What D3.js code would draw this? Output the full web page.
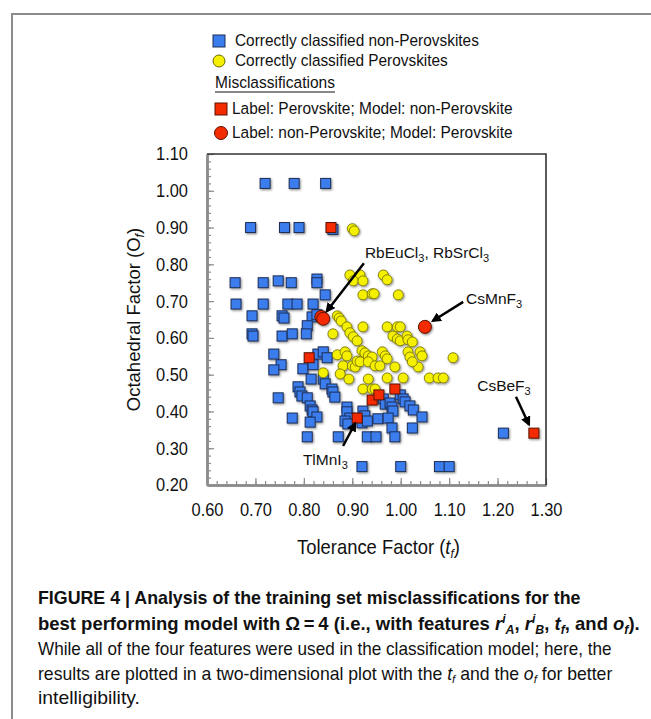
<!DOCTYPE html>
<html>
<head>
<meta charset="utf-8">
<script src="https://cdn.jsdelivr.net/npm/d3@7"></script>
<style>
  body { margin: 0; background: #fff; }
  svg text { font-family: "Liberation Sans", Arial, Helvetica, sans-serif; fill: #111; }
</style>
</head>
<body>
<div id="chart"></div>
<script>
// ......................
// Data (tolerance factor t_f, octahedral factor o_f)

// blue squares: correctly classified non-perovskites
var nonPerovskiteOK = [
  [0.72, 1.02], [0.78, 1.02], [0.845, 1.02],
  [0.69, 0.90], [0.76, 0.90], [0.79, 0.90], [0.86, 0.895],
  [0.658, 0.75], [0.716, 0.75], [0.747, 0.755], [0.774, 0.75], [0.827, 0.76], [0.827, 0.75],
  [0.844, 0.717],
  [0.66, 0.692], [0.716, 0.692], [0.767, 0.692], [0.786, 0.692], [0.819, 0.692],
  [0.693, 0.66], [0.755, 0.66], [0.759, 0.654], [0.817, 0.657], [0.827, 0.663],
  [0.807, 0.633],
  [0.693, 0.611], [0.695, 0.605], [0.755, 0.605], [0.776, 0.611], [0.805, 0.611],
  [0.738, 0.556], [0.753, 0.527], [0.738, 0.513], [0.798, 0.516], [0.829, 0.556], [0.84, 0.562], [0.848, 0.546], [0.819, 0.527],
  [0.815, 0.488], [0.84, 0.488], [0.844, 0.475],
  [0.788, 0.467], [0.792, 0.453], [0.796, 0.442],
  [0.858, 0.461], [0.86, 0.453], [0.864, 0.439],
  [0.747, 0.437],
  [0.807, 0.437], [0.813, 0.415], [0.817, 0.404], [0.819, 0.399], [0.827, 0.385],
  [0.776, 0.382], [0.813, 0.371],
  [0.889, 0.412], [0.889, 0.399], [0.895, 0.382], [0.885, 0.374], [0.891, 0.366],
  [0.922, 0.401], [0.926, 0.388], [0.92, 0.369], [0.931, 0.374], [0.953, 0.38],
  [0.964, 0.434], [0.968, 0.42], [0.978, 0.423], [0.982, 0.412], [0.984, 0.401], [0.974, 0.382],
  [0.999, 0.445], [1.005, 0.434], [1.009, 0.426], [1.019, 0.415], [1.026, 0.404], [1.044, 0.385],
  [0.982, 0.355], [1.024, 0.355],
  [0.807, 0.331], [0.871, 0.331], [0.931, 0.331], [0.949, 0.331], [0.988, 0.331],
  [0.92, 0.25], [1.0, 0.25], [1.08, 0.25], [1.10, 0.25],
  [1.212, 0.341]
];

// yellow circles: correctly classified perovskites
var perovskiteOK = [
  [0.90, 0.897], [0.904, 0.891],
  [0.895, 0.771], [0.916, 0.771], [0.902, 0.755], [0.922, 0.755], [0.964, 0.771], [0.972, 0.758],
  [0.922, 0.717], [0.941, 0.72], [0.945, 0.72], [0.995, 0.717],
  [0.869, 0.66], [0.873, 0.654], [0.877, 0.646],
  [0.889, 0.63], [0.895, 0.614], [0.902, 0.603], [0.91, 0.592], [0.922, 0.63],
  [0.86, 0.611],
  [0.972, 0.63], [0.993, 0.63], [0.999, 0.63], [0.984, 0.605], [0.993, 0.597], [0.999, 0.592],
  [1.013, 0.605], [1.015, 0.595], [1.024, 0.589],
  [0.92, 0.565], [0.926, 0.559], [0.933, 0.551], [0.941, 0.548],
  [0.962, 0.562], [0.968, 0.551], [0.972, 0.543],
  [1.015, 0.562], [1.019, 0.548], [1.04, 0.562], [1.044, 0.551],
  [1.108, 0.546],
  [0.869, 0.554], [0.885, 0.562], [0.889, 0.551],
  [0.84, 0.505],
  [0.881, 0.524], [0.90, 0.524], [0.906, 0.521], [0.91, 0.537], [0.916, 0.535], [0.933, 0.535],
  [0.947, 0.524], [0.957, 0.524], [0.988, 0.521],
  [0.875, 0.502], [0.893, 0.488],
  [0.933, 0.488], [0.972, 0.491], [1.005, 0.491],
  [1.036, 0.521], [1.024, 0.535],
  [1.059, 0.491], [1.077, 0.491], [1.088, 0.491],
  [0.922, 0.461], [0.941, 0.461], [0.947, 0.461]
];

// red squares: label perovskite, model non-perovskite
var misPerovskite = [
  [0.856, 0.90], [0.811, 0.546], [0.941, 0.431], [0.955, 0.445], [0.988, 0.461], [0.91, 0.382], [1.275, 0.341]
];

// red circles: label non-perovskite, model perovskite
var misNonPerovskite = [
  [0.836, 0.657], [0.84, 0.652], [1.05, 0.63]
];

var xTicks = [0.6, 0.7, 0.8, 0.9, 1.0, 1.1, 1.2, 1.3];
var yTicks = [0.2, 0.3, 0.4, 0.5, 0.6, 0.7, 0.8, 0.9, 1.0, 1.1];

var legendLabels = [
  "Correctly classified non-Perovskites",
  "Correctly classified Perovskites",
  "Misclassifications",
  "Label: Perovskite; Model: non-Perovskite",
  "Label: non-Perovskite; Model: Perovskite"
];

// annotation: name, subscript, text anchor, arrow start, arrow tip (data units)
var annotations = [
  {name: "RbEuCl", sub: "3", rest: ", RbSrCl", sub2: "3", text: [0.926, 0.818], from: [0.924, 0.803], to: [0.847, 0.672]},
  {name: "CsMnF", sub: "3", text: [1.135, 0.692], from: [1.129, 0.698], to: [1.066, 0.646]},
  {name: "CsBeF", sub: "3", text: [1.158, 0.456], from: [1.238, 0.440], to: [1.265, 0.364]},
  {name: "TlMnI", sub: "3", text: [0.798, 0.254], from: [0.881, 0.306], to: [0.906, 0.368]}
];

// ......................
// SVG area
var svgWidth = 651;
var svgHeight = 719;
var plot = {left: 207, top: 154, right: 546, bottom: 485};

var svg = d3.select("#chart")
    .append("svg")
    .attr("width", svgWidth)
    .attr("height", svgHeight);

var defs = svg.append("defs");
defs.append("filter")
    .attr("id", "shadow")
    .attr("x", "-50%").attr("y", "-50%").attr("width", "200%").attr("height", "200%")
  .append("feDropShadow")
    .attr("dx", 1).attr("dy", 1.2)
    .attr("stdDeviation", 0.8)
    .attr("flood-color", "#000")
    .attr("flood-opacity", 0.45);

defs.append("marker")
    .attr("id", "arrow")
    .attr("viewBox", "0 0 10 10")
    .attr("refX", 8).attr("refY", 5)
    .attr("markerWidth", 4).attr("markerHeight", 4)
    .attr("orient", "auto")
  .append("path")
    .attr("d", "M0,0 L10,5 L0,10 z")
    .attr("fill", "#000");

// squeeze a text element horizontally to a given width
function fitLine(sel, x0, width) {
  var w = sel.node().getBBox().width;
  sel.attr("transform", `translate(${x0},0) scale(${width / w},1)`);
}

// outer figure frame
svg.append("path")
    .attr("d", `M12,${svgHeight} L12,14 L${svgWidth},14`)
    .attr("fill", "none")
    .attr("stroke", "#8c8c8c")
    .attr("stroke-width", 2);

// ......................
// Legend
var blue = "#3b7ded", blueEdge = "#1c2d55";
var yellow = "#f4f000", yellowEdge = "#6e6a00";
var red = "#f42a00", redEdge = "#5a1200";

var legend = svg.append("g").attr("class", "legend");

legend.append("rect")
    .attr("x", 213).attr("y", 35).attr("width", 12).attr("height", 12)
    .attr("fill", blue).attr("stroke", blueEdge).attr("stroke-width", 1);
legend.append("circle")
    .attr("cx", 219).attr("cy", 61).attr("r", 6)
    .attr("fill", yellow).attr("stroke", yellowEdge).attr("stroke-width", 1);
legend.append("line")
    .attr("x1", 215).attr("x2", 335).attr("y1", 92).attr("y2", 92)
    .attr("stroke", "#111").attr("stroke-width", 1);
legend.append("rect")
    .attr("x", 215).attr("y", 103).attr("width", 12).attr("height", 12)
    .attr("fill", red).attr("stroke", redEdge).attr("stroke-width", 1);
legend.append("circle")
    .attr("cx", 221).attr("cy", 133).attr("r", 6.5)
    .attr("fill", red).attr("stroke", redEdge).attr("stroke-width", 1);

var legendPos = [[235, 46, 244], [235, 66, 213], [215, 88, 120], [232, 114, 281], [232, 138, 281]];
legendLabels.forEach(function(label, i) {
  var t = legend.append("text")
      .attr("x", 0).attr("y", legendPos[i][1])
      .attr("font-size", 16.5)
      .text(label);
  fitLine(t, legendPos[i][0], legendPos[i][2]);
});

// ......................
// Scales and axes
var xScale = d3.scaleLinear().domain([0.6, 1.3]).range([plot.left, plot.right]);
var yScale = d3.scaleLinear().domain([0.2, 1.1]).range([plot.bottom, plot.top]);

var minorX = d3.range(0.6, 1.3001, 0.02);
var minorY = d3.range(0.2, 1.1001, 0.02);

var axisGray = "#8c8c8c";

var xMinor = svg.append("g")
    .attr("transform", `translate(0, ${plot.bottom})`)
    .call(d3.axisBottom(xScale).tickValues(minorX).tickSize(-4).tickSizeOuter(0).tickFormat(""));
var yMinor = svg.append("g")
    .attr("transform", `translate(${plot.left}, 0)`)
    .call(d3.axisLeft(yScale).tickValues(minorY).tickSize(-4).tickSizeOuter(0).tickFormat(""));

var xAxis = svg.append("g")
    .attr("class", "xAxis")
    .attr("transform", `translate(0, ${plot.bottom})`)
    .call(d3.axisBottom(xScale).tickValues(xTicks).tickSize(-7).tickSizeOuter(0)
        .tickPadding(18).tickFormat(d3.format(".2f")));
var yAxis = svg.append("g")
    .attr("class", "yAxis")
    .attr("transform", `translate(${plot.left}, 0)`)
    .call(d3.axisLeft(yScale).tickValues(yTicks).tickSize(-7).tickSizeOuter(0)
        .tickPadding(19).tickFormat(d3.format(".2f")));

[xMinor, yMinor, xAxis, yAxis].forEach(function(g) {
  g.selectAll("line").attr("stroke", axisGray).attr("stroke-width", 1.2);
  g.select(".domain").attr("stroke", axisGray).attr("stroke-width", 2.5);
  g.selectAll("text")
      .attr("font-size", 18.5)
      .attr("textLength", 32)
      .attr("lengthAdjust", "spacingAndGlyphs")
      .attr("font-family", "Liberation Sans, Arial, sans-serif")
      .attr("fill", "#111");
});

// top & right frame
svg.append("path")
    .attr("d", `M${plot.left},${plot.top} L${plot.right},${plot.top} L${plot.right},${plot.bottom}`)
    .attr("fill", "none")
    .attr("stroke", "#333")
    .attr("stroke-width", 1.6);

// axis titles
var xTitle = svg.append("text")
    .attr("x", 0)
    .attr("y", 554)
    .attr("font-size", 20);
xTitle.append("tspan").text("Tolerance Factor (");
xTitle.append("tspan").attr("font-style", "italic").text("t");
xTitle.append("tspan").attr("font-style", "italic").attr("font-size", 13).attr("dy", 4).text("f");
xTitle.append("tspan").attr("dy", -4).text(")");
fitLine(xTitle, 297, 163);

var yTitle = svg.append("text")
    .attr("transform", `translate(140, ${(plot.top + plot.bottom) / 2}) rotate(-90)`)
    .attr("text-anchor", "middle")
    .attr("font-size", 18.5);
yTitle.append("tspan").text("Octahedral Factor (O");
yTitle.append("tspan").attr("font-style", "italic").attr("font-size", 12.5).attr("dy", 4).text("f");
yTitle.append("tspan").attr("dy", -4).text(")");

// ......................
// Points
var sq = 10;
var marks = svg.append("g").attr("filter", "url(#shadow)");

marks.selectAll(".blueSq")
    .data(nonPerovskiteOK)
    .enter()
    .append("rect")
    .attr("class", "blueSq")
    .attr("x", d => xScale(d[0]) - sq / 2)
    .attr("y", d => yScale(d[1]) - sq / 2)
    .attr("width", sq).attr("height", sq)
    .attr("fill", blue).attr("stroke", blueEdge).attr("stroke-width", 1);

marks.selectAll(".yellowDot")
    .data(perovskiteOK)
    .enter()
    .append("circle")
    .attr("class", "yellowDot")
    .attr("cx", d => xScale(d[0]))
    .attr("cy", d => yScale(d[1]))
    .attr("r", 5)
    .attr("fill", yellow).attr("stroke", yellowEdge).attr("stroke-width", 0.8);

marks.selectAll(".redSq")
    .data(misPerovskite)
    .enter()
    .append("rect")
    .attr("class", "redSq")
    .attr("x", d => xScale(d[0]) - sq / 2)
    .attr("y", d => yScale(d[1]) - sq / 2)
    .attr("width", sq).attr("height", sq)
    .attr("fill", red).attr("stroke", redEdge).attr("stroke-width", 1);

marks.selectAll(".redDot")
    .data(misNonPerovskite)
    .enter()
    .append("circle")
    .attr("class", "redDot")
    .attr("cx", d => xScale(d[0]))
    .attr("cy", d => yScale(d[1]))
    .attr("r", 6.5)
    .attr("fill", red).attr("stroke", redEdge).attr("stroke-width", 1);

// ......................
// Annotations
annotations.forEach(function(a) {
  svg.append("line")
      .attr("x1", xScale(a.from[0])).attr("y1", yScale(a.from[1]))
      .attr("x2", xScale(a.to[0])).attr("y2", yScale(a.to[1]))
      .attr("stroke", "#000")
      .attr("stroke-width", 2.5)
      .attr("marker-end", "url(#arrow)");

  var t = svg.append("text")
      .attr("x", xScale(a.text[0]))
      .attr("y", yScale(a.text[1]))
      .attr("font-size", 15.5);
  t.append("tspan").text(a.name);
  t.append("tspan").attr("font-size", 11).attr("dy", 4).text(a.sub);
  if (a.rest) {
    t.append("tspan").attr("dy", -4).text(a.rest);
    t.append("tspan").attr("font-size", 11).attr("dy", 4).text(a.sub2);
  }
});

// ......................
// Caption
var capLeft = 38;

var c1 = svg.append("text").attr("x", 0).attr("y", 604)
    .attr("font-size", 18).attr("font-weight", "bold").attr("fill", "#1a1a1a")
    .text("FIGURE 4 | Analysis of the training set misclassifications for the");
fitLine(c1, capLeft, 543);

var c2 = svg.append("text").attr("x", 0).attr("y", 630)
    .attr("font-size", 18).attr("font-weight", "bold").attr("fill", "#1a1a1a");
c2.append("tspan").text("best performing model with \u03A9\u2009=\u20094 (i.e., with features ");
c2.append("tspan").attr("font-style", "italic").text("r");
c2.append("tspan").attr("font-style", "italic").attr("font-size", 12).attr("dy", -7).text("i");
c2.append("tspan").attr("font-style", "italic").attr("font-size", 12).attr("dy", 11).text("A");
c2.append("tspan").attr("dy", -4).text(", ");
c2.append("tspan").attr("font-style", "italic").text("r");
c2.append("tspan").attr("font-style", "italic").attr("font-size", 12).attr("dy", -7).text("i");
c2.append("tspan").attr("font-style", "italic").attr("font-size", 12).attr("dy", 11).text("B");
c2.append("tspan").attr("dy", -4).text(", ");
c2.append("tspan").attr("font-style", "italic").text("t");
c2.append("tspan").attr("font-style", "italic").attr("font-size", 12).attr("dy", 4).text("f");
c2.append("tspan").attr("dy", -4).text(", and ");
c2.append("tspan").attr("font-style", "italic").text("o");
c2.append("tspan").attr("font-style", "italic").attr("font-size", 12).attr("dy", 4).text("f");
c2.append("tspan").attr("dy", -4).text(").");
fitLine(c2, capLeft, 602);

var c3 = svg.append("text").attr("x", 0).attr("y", 655)
    .attr("font-size", 17.5).attr("fill", "#3a3a3a")
    .text("While all of the four features were used in the classification model; here, the");
fitLine(c3, capLeft, 574);

var c4 = svg.append("text").attr("x", 0).attr("y", 680)
    .attr("font-size", 17.5).attr("fill", "#3a3a3a");
c4.append("tspan").text("results are plotted in a two-dimensional plot with the ");
c4.append("tspan").attr("font-style", "italic").text("t");
c4.append("tspan").attr("font-style", "italic").attr("font-size", 11.5).attr("dy", 3).text("f");
c4.append("tspan").attr("dy", -3).text(" and the ");
c4.append("tspan").attr("font-style", "italic").text("o");
c4.append("tspan").attr("font-style", "italic").attr("font-size", 11.5).attr("dy", 3).text("f");
c4.append("tspan").attr("dy", -3).text(" for better");
fitLine(c4, capLeft, 575);

var c5 = svg.append("text").attr("x", 0).attr("y", 704)
    .attr("font-size", 17.5).attr("fill", "#3a3a3a")
    .text("intelligibility.");
fitLine(c5, capLeft, 102);
</script>
</body>
</html>
